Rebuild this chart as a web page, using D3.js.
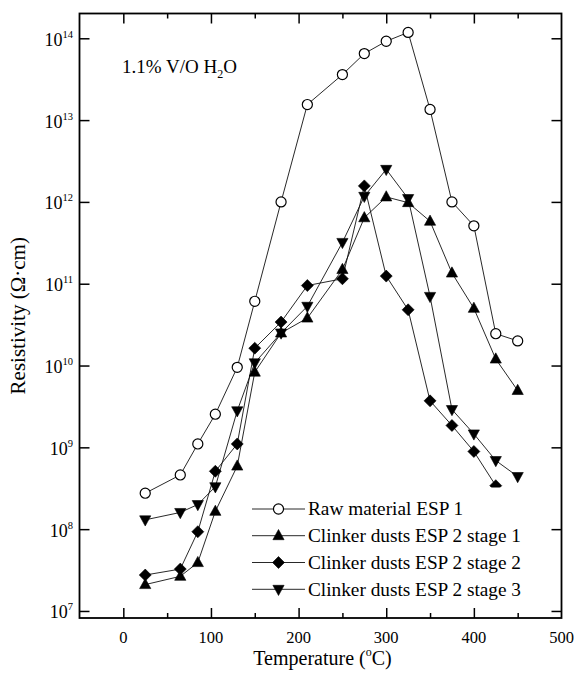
<!DOCTYPE html>
<html>
<head>
<meta charset="utf-8">
<script src="https://cdn.jsdelivr.net/npm/d3@7"></script>
<style>
  html, body { margin: 0; padding: 0; background: #fff; }
  svg text { font-family: "Liberation Serif", "Times New Roman", serif; fill: #000; }
</style>
</head>
<body>
<svg id="chart" width="576" height="673"></svg>
<script>
// Temperatures (deg C) shared by all series
const TEMPS = [25, 65, 85, 105, 130, 150, 180, 210, 250, 275, 300, 325, 350, 375, 400, 425, 450];

// Resistivity (ohm.cm); null = no point
const RAW_ESP1 = [2.75e8, 4.6e8, 1.1e9, 2.54e9, 9.5e9, 6.1e10, 1.0e12, 1.55e13, 3.6e13, 6.5e13, 9.2e13, 1.18e14, 1.35e13, 1.0e12, 5.1e11, 2.45e10, 2.0e10];
const CLINKER_STAGE1 = [2.1e7, 2.65e7, 3.9e7, 1.65e8, 5.9e8, 8.3e9, 2.5e10, 3.8e10, 1.49e11, 6.4e11, 1.15e12, 9.8e11, 5.8e11, 1.35e11, 5.0e10, 1.2e10, 4.95e9];
const CLINKER_STAGE2 = [2.75e7, 3.25e7, 9.3e7, 5.1e8, 1.1e9, 1.63e10, 3.4e10, 9.5e10, 1.15e11, 1.57e12, 1.24e11, 4.8e10, 3.7e9, 1.85e9, 8.9e8, 3.4e8, null];
const CLINKER_STAGE3 = [1.3e8, 1.6e8, 2.0e8, 3.3e8, 2.8e9, 1.08e10, 2.5e10, 5.3e10, 3.2e11, 1.17e12, 2.5e12, 1.1e12, 7.0e10, 2.9e9, 1.46e9, 6.9e8, 4.4e8];

const SERIES_LABELS = ['Raw material ESP 1', 'Clinker dusts ESP 2 stage 1', 'Clinker dusts ESP 2 stage 2', 'Clinker dusts ESP 2 stage 3'];
const SERIES_MARKERS = ['circle', 'up', 'diamond', 'down'];

const X_TICKS = [0, 100, 200, 300, 400, 500];
const X_MINOR = [-50, 50, 150, 250, 350, 450];
const Y_EXPONENTS = [7, 8, 9, 10, 11, 12, 13, 14];

(function () {
  'use strict';

  const svg = d3.select('#chart');

  // Plot frame in pixels
  const left = 79.5, right = 561.5, top = 13.5, bottom = 618;

  const x = d3.scaleLinear().domain([-50, 500]).range([left, right]);
  const y = d3.scaleLog().domain([Math.pow(10, 6.914), Math.pow(10, 14.303)]).range([bottom, top]);

  const seriesValues = [RAW_ESP1, CLINKER_STAGE1, CLINKER_STAGE2, CLINKER_STAGE3];

  // Marker paths centred on 0,0
  function markerPath(kind) {
    if (kind === 'up') return 'M0,-6.2L5.6,4L-5.6,4Z';
    if (kind === 'down') return 'M0,6.2L5.6,-4L-5.6,-4Z';
    if (kind === 'diamond') return 'M0,-6L6,0L0,6L-6,0Z';
    return d3.symbol(d3.symbolCircle, 80)();
  }

  const plot = svg.append('g');

  const line = d3.line()
    .defined(d => d.v != null)
    .x(d => x(d.t))
    .y(d => y(d.v));

  seriesValues.forEach((vals, si) => {
    const pts = TEMPS.map((t, i) => ({ t: t, v: vals[i] }));
    plot.append('path')
      .attr('d', line(pts))
      .attr('fill', 'none')
      .attr('stroke', '#111')
      .attr('stroke-width', 0.9);
  });

  seriesValues.forEach((vals, si) => {
    const pts = TEMPS.map((t, i) => ({ t: t, v: vals[i] })).filter(d => d.v != null);
    const kind = SERIES_MARKERS[si];
    plot.selectAll(null)
      .data(pts)
      .enter().append('path')
      .attr('transform', d => `translate(${x(d.t)},${y(d.v)})`)
      .attr('d', markerPath(kind))
      .attr('fill', kind === 'circle' ? '#fff' : '#000')
      .attr('stroke', '#000')
      .attr('stroke-width', kind === 'circle' ? 1.2 : 0.6);
  });

  // Legend, with a white box that hides what is behind it
  const legX1 = 252, legX2 = 305, legTextX = 308;
  const legRows = [509, 535.7, 562.5, 589.3];
  svg.append('rect')
    .attr('x', 248).attr('y', 487.5)
    .attr('width', 290).attr('height', 112)
    .attr('fill', '#fff');
  SERIES_LABELS.forEach((label, i) => {
    const ly = legRows[i];
    const kind = SERIES_MARKERS[i];
    svg.append('line')
      .attr('x1', legX1).attr('x2', legX2)
      .attr('y1', ly).attr('y2', ly)
      .attr('stroke', '#111').attr('stroke-width', 0.9);
    svg.append('path')
      .attr('transform', `translate(${(legX1 + legX2) / 2},${ly})`)
      .attr('d', markerPath(kind))
      .attr('fill', kind === 'circle' ? '#fff' : '#000')
      .attr('stroke', '#000')
      .attr('stroke-width', kind === 'circle' ? 1.2 : 0.6);
    svg.append('text')
      .attr('x', legTextX).attr('y', ly + 6.3)
      .attr('font-size', 19.3)
      .text(label);
  });

  // Frame
  svg.append('rect')
    .attr('x', left).attr('y', top)
    .attr('width', right - left).attr('height', bottom - top)
    .attr('fill', 'none')
    .attr('stroke', '#000')
    .attr('stroke-width', 1.8);

  // Inward ticks via axes on all four sides
  const tickFmt = () => '';
  const xMajor = X_TICKS.filter(v => v > -50 && v < 500);

  svg.append('g').attr('transform', `translate(0,${bottom})`)
    .call(d3.axisTop(x).tickValues(xMajor).tickSize(10).tickFormat(tickFmt));
  svg.append('g').attr('transform', `translate(0,${bottom})`)
    .call(d3.axisTop(x).tickValues(X_MINOR.filter(v => v > -50)).tickSize(5).tickFormat(tickFmt));
  svg.append('g').attr('transform', `translate(0,${top})`)
    .call(d3.axisBottom(x).tickValues(xMajor).tickSize(10).tickFormat(tickFmt));
  svg.append('g').attr('transform', `translate(0,${top})`)
    .call(d3.axisBottom(x).tickValues(X_MINOR.filter(v => v > -50)).tickSize(5).tickFormat(tickFmt));

  const yTickVals = Y_EXPONENTS.map(e => Math.pow(10, e));
  svg.append('g').attr('transform', `translate(${left},0)`)
    .call(d3.axisRight(y).tickValues(yTickVals).tickSize(10).tickFormat(tickFmt));
  svg.append('g').attr('transform', `translate(${right},0)`)
    .call(d3.axisLeft(y).tickValues(yTickVals).tickSize(10).tickFormat(tickFmt));

  svg.selectAll('.domain').remove();
  svg.selectAll('.tick line').attr('stroke', '#000').attr('stroke-width', 1.5);

  // X tick labels
  X_TICKS.forEach(v => {
    svg.append('text')
      .attr('x', x(v)).attr('y', bottom + 25)
      .attr('text-anchor', 'middle')
      .attr('font-size', 16.5)
      .text(String(v));
  });

  // Y tick labels: 10 with superscript exponent
  Y_EXPONENTS.forEach(e => {
    const ty = y(Math.pow(10, e));
    const t = svg.append('text')
      .attr('x', 73).attr('y', ty + 7.5)
      .attr('text-anchor', 'end')
      .attr('font-size', 18);
    t.append('tspan').text('10');
    t.append('tspan').attr('font-size', 10.5).attr('dy', -8).text(String(e));
  });

  // Axis titles
  const xt = svg.append('text')
    .attr('x', (left + right) / 2 + 2).attr('y', 665)
    .attr('text-anchor', 'middle')
    .attr('font-size', 20);
  xt.append('tspan').text('Temperature (');
  xt.append('tspan').attr('font-size', 12).attr('dy', -9).text('o');
  xt.append('tspan').attr('dy', 9).text('C)');

  svg.append('text')
    .attr('transform', `translate(25,${(top + bottom) / 2}) rotate(-90)`)
    .attr('text-anchor', 'middle')
    .attr('font-size', 21)
    .text('Resistivity (\u03A9\u00B7cm)');

  // Humidity annotation
  const ann = svg.append('text')
    .attr('x', 122).attr('y', 73)
    .attr('font-size', 19);
  ann.append('tspan').text('1.1% V/O H');
  ann.append('tspan').attr('font-size', 12).attr('dy', 5).text('2');
  ann.append('tspan').attr('dy', -5).text('O');
})();
</script>
</body>
</html>
